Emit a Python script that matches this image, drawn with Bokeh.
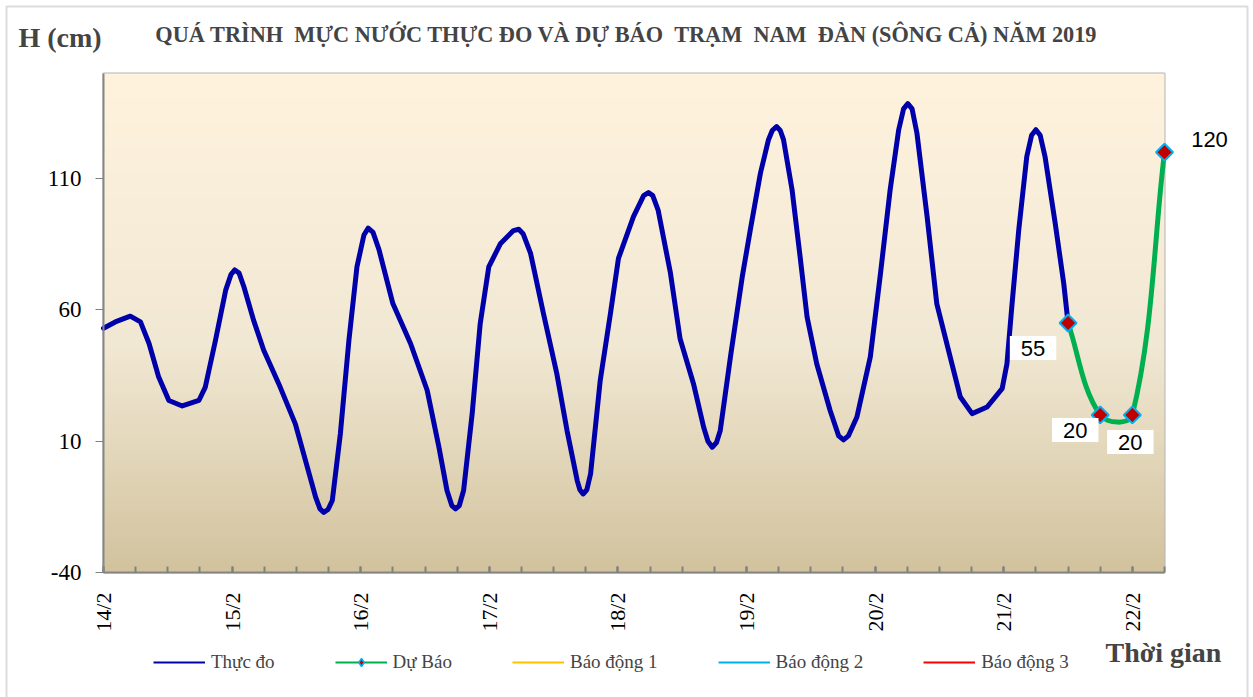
import math
import numpy as np
from bokeh.plotting import figure
from bokeh.models import (Range1d, FixedTicker, Label, Legend, LegendItem, LinearAxis,
                          BoxAnnotation)
from bokeh.embed import file_html
from bokeh.resources import INLINE

# ---------------- data ----------------
NB = "\u00a0"
title_text = ("QUÁ TRÌNH " + NB + "MỰC NƯỚC THỰC ĐO VÀ DỰ BÁO " + NB + "TRẠM " + NB +
              "NAM " + NB + "ĐÀN (SÔNG CẢ) NĂM 2019")
y_title = "H (cm)"
x_title = "Thời gian"

# hours counted from 14/2 00h
day_ticks_h = [0, 24, 48, 72, 96, 120, 144, 168, 192]
day_labels = ["14/2", "15/2", "16/2", "17/2", "18/2", "19/2", "20/2", "21/2", "22/2"]
y_ticks = [-40, 10, 60, 110]

obs_h = [0, 2.2, 5.0, 6.9, 8.5, 10.3, 12.2, 14.7, 17.8, 19.0, 20.9, 22.8, 23.8, 24.5, 25.3,
         26.2, 28.0, 29.9, 32.7, 35.8, 37.7, 39.6, 40.4, 41.1, 41.9, 42.7, 44.2, 45.8,
         47.3, 48.6, 49.4, 50.3, 51.4, 54.0, 57.3, 60.4, 62.6, 64.1, 65.0, 65.7, 66.4,
         67.2, 68.8, 70.3, 71.9, 74.1, 76.5, 77.5, 78.3, 79.7, 82.1, 84.6, 86.5, 88.4,
         88.9, 89.5, 90.2, 90.9, 92.7, 94.6, 96.1, 98.9, 100.8, 101.7, 102.5, 103.5,
         105.8, 107.6, 110.1, 112.0, 112.8, 113.6, 114.4, 115.1, 117.0, 119.2, 120.7,
         122.6, 124.1, 124.8, 125.6, 126.3, 126.9, 128.5, 130.0, 131.3, 133.1, 135.6,
         137.2, 138.1, 139.0, 140.6, 143.1, 145.0, 146.8, 148.4, 149.3, 150.1, 150.9,
         151.8, 153.7, 155.5, 158.0, 159.9, 162.1, 164.9, 167.7, 168.6, 169.5, 170.8,
         172.3, 173.2, 174.0, 174.8, 175.7, 177.6, 179.2, 180.0]
obs_v = [53, 55.4, 57.6, 55.4, 47.2, 34.4, 25.5, 23.4, 25.5, 30.6, 48.4, 67.5, 73.5, 75.2, 74,
         68.8, 56.1, 44.6, 31.9, 16.6, 2.6, -11.4, -15.8, -17.1, -16, -12.6, 12.8, 48.4,
         76.4, 88.5, 91.1, 89.5, 83, 62.4, 47.2, 29.4, 7.7, -8.8, -14.5, -15.8, -14.5,
         -8.8, 20.5, 54.8, 76.4, 85.3, 90.2, 90.7, 89, 81.5, 58.6, 35.7, 14.1, -5,
         -8.5, -10.1, -8.5, -2.4, 33.2, 58.6, 79.6, 95.5, 103.5, 104.7, 103.5, 98,
         74, 49, 31.9, 15.3, 10, 7.7, 9.5, 14.1, 42.1, 72.6, 90.4,
         112.1, 124.8, 128.3, 129.8, 128.3, 124.8, 105.7, 80.2, 57.3, 39.5, 21.7,
         12, 10.5, 12, 19.2, 42.1, 73.9, 105.7, 128.6, 136.5, 138.5, 136.5,
         127.3, 95.5, 62.4, 42.1, 26.8, 20.5, 23, 30, 39.5, 61.1, 90.4,
         118.4, 126.5, 128.6, 126.5, 118.4, 93, 70, 55]

# Dự Báo (forecast)
fc_h = [180, 186, 192, 198]
fc_v = [55, 20, 20, 120]

legend_names = ["Thực đo", "Dự Báo", "Báo động 1", "Báo động 2", "Báo động 3"]

# ---------------- layout / styles ----------------
W, H = 1253, 697
PX_L, PX_R, PX_T, PX_B = 103, 1164, 73, 572      # plot area box in page pixels
x_start, x_end = 0, 198
y_start, y_end = -40, 150
SERIF = "Liberation Serif"
SANS = "Liberation Sans"
label_offsets = [(-35, -25), (-25, -15), (-2, -27), (45, 13)]

kx = (PX_R - PX_L) / (x_end - x_start)
ky = (PX_B - PX_T) / (y_end - y_start)


def px_x(px):
    return x_start + (px - PX_L) / kx


def px_y(py):
    return y_start + (PX_B - py) / ky


def smooth_segments(xs, ys):
    """Bezier control points for a smoothed line (tangent ~ neighbour chord,
    handle length = 1/3 of the segment, computed in screen-like space)."""
    P = np.column_stack([np.asarray(xs, float) * kx, np.asarray(ys, float) * ky])
    n = len(P)
    T = np.zeros_like(P)
    for i in range(n):
        if i == 0:
            d = P[1] - P[0]
        elif i == n - 1:
            d = P[-1] - P[-2]
        else:
            d = P[i + 1] - P[i - 1]
        T[i] = d / np.hypot(*d)
    segs = dict(x0=[], y0=[], x1=[], y1=[], cx0=[], cy0=[], cx1=[], cy1=[])
    for i in range(n - 1):
        L = np.hypot(*(P[i + 1] - P[i])) / 3.0
        c0 = P[i] + T[i] * L
        c1 = P[i + 1] - T[i + 1] * L
        segs["x0"].append(P[i][0] / kx); segs["y0"].append(P[i][1] / ky)
        segs["x1"].append(P[i + 1][0] / kx); segs["y1"].append(P[i + 1][1] / ky)
        segs["cx0"].append(c0[0] / kx); segs["cy0"].append(c0[1] / ky)
        segs["cx1"].append(c1[0] / kx); segs["cy1"].append(c1[1] / ky)
    return segs


p = figure(width=W, height=H, output_backend="svg", toolbar_location=None,
           x_range=Range1d(px_x(0), px_x(W)), y_range=Range1d(px_y(H), px_y(0)),
           x_axis_location=None, y_axis_location=None,
           min_border=0, min_border_left=0, min_border_right=0,
           min_border_top=0, min_border_bottom=0)
p.background_fill_color = "white"
p.border_fill_color = "white"
p.outline_line_color = None
p.grid.visible = False

# outer chart border
p.add_layout(BoxAnnotation(left=px_x(6), right=px_x(1247), top=px_y(6), bottom=px_y(702),
                           fill_color=None, line_color="#8c8c8c", line_width=2,
                           level="underlay"))

# gradient background of plot area
ny = 256
t = np.linspace(0, 1, ny)  # 0 = bottom, 1 = top
st = [0.0, 0.25, 0.45, 1.0]
cols = np.array([(210, 195, 158), (228, 216, 188), (241, 232, 211), (255, 243, 222)], float)
img = np.empty((ny, 2), dtype=np.uint32)
view = img.view(dtype=np.uint8).reshape((ny, 2, 4))
for c in range(3):
    view[:, :, c] = np.interp(t, st, cols[:, c])[:, None].astype(np.uint8)
view[:, :, 3] = 255
p.image_rgba(image=[img], x=x_start, y=y_start, dw=x_end - x_start, dh=y_end - y_start)

# plot-area border (top / right black)
p.add_layout(BoxAnnotation(left=x_start, right=x_end, bottom=y_start, top=y_end,
                           fill_color=None, line_color="black", line_width=2,
                           level="underlay"))

# series
p.line(obs_h, obs_v, line_color="#0000AA", line_width=5, line_join="round", line_cap="round")
p.bezier(**smooth_segments(fc_h, fc_v), line_color="#00B050", line_width=5, line_cap="round")
p.scatter(fc_h, fc_v, marker="square", angle=math.pi / 4, size=12,
          fill_color="#C00000", line_color="#00B0F0", line_width=2)

# data labels
for i in range(len(fc_h)):
    dx, dy = label_offsets[i]
    p.add_layout(Label(x=fc_h[i], y=fc_v[i], text=str(fc_v[i]), x_offset=dx, y_offset=dy,
                       text_align="center", text_baseline="middle", text_font=SANS,
                       text_font_size="22px", text_color="black",
                       background_fill_color="white" if i < 3 else None,
                       padding=dict(left=11, right=11, top=5, bottom=4)))

# axes (drawn at the plot-area edges)
xa = LinearAxis(fixed_location=y_start, bounds=(x_start, x_end))
xa.ticker = FixedTicker(ticks=day_ticks_h, minor_ticks=list(range(x_start, x_end + 1, 6)))
xa.major_label_overrides = {h: s for h, s in zip(day_ticks_h, day_labels)}
xa.major_label_orientation = math.pi / 2
xa.major_tick_in = 6
xa.major_tick_out = 0
xa.minor_tick_in = 6
xa.minor_tick_out = 0
xa.major_tick_line_color = "#808080"
xa.minor_tick_line_color = "#808080"
xa.major_tick_line_width = 2
xa.minor_tick_line_width = 2
xa.axis_line_color = "#868686"
xa.axis_line_width = 2
xa.major_label_standoff = 20
xa.major_label_text_font = SERIF
xa.major_label_text_font_size = "22px"
xa.major_label_text_color = "black"
p.add_layout(xa, "below")

ya = LinearAxis(fixed_location=x_start, bounds=(y_start, y_end))
ya.ticker = FixedTicker(ticks=y_ticks)
ya.major_label_overrides = {v: str(v) for v in y_ticks}
ya.major_tick_in = 0
ya.major_tick_out = 8
ya.minor_tick_line_color = None
ya.major_tick_line_color = "#808080"
ya.axis_line_color = "#868686"
ya.axis_line_width = 2
ya.major_label_standoff = 14
ya.major_label_text_font = SERIF
ya.major_label_text_font_size = "23px"
ya.major_label_text_color = "black"
p.add_layout(ya, "left")

# titles
p.add_layout(Label(x=px_x(18), y=px_y(37), text=y_title,
                   text_font=SERIF, text_font_style="bold", text_font_size="28px",
                   text_align="left", text_baseline="middle"))
p.add_layout(Label(x=px_x(626), y=px_y(34), text=title_text,
                   text_font=SERIF, text_font_style="bold", text_font_size="22.3px",
                   text_align="center", text_baseline="middle"))
p.add_layout(Label(x=px_x(1105), y=px_y(652), text=x_title,
                   text_font=SERIF, text_font_style="bold", text_font_size="28px",
                   text_align="left", text_baseline="middle"))

# legend (legend-only renderers, no visible data)
nan = [float("nan")]
l_obs = p.line(nan, nan, line_color="#0000AA", line_width=2)
l_fc = p.line(nan, nan, line_color="#00B050", line_width=2)
l_fcm = p.scatter(nan, nan, marker="diamond", size=14,
                  fill_color="#C00000", line_color="#00B0F0", line_width=1.5)
l_b1 = p.line(nan, nan, line_color="#FFC000", line_width=2)
l_b2 = p.line(nan, nan, line_color="#00B0F0", line_width=2)
l_b3 = p.line(nan, nan, line_color="#FF0000", line_width=2)
items = [LegendItem(label=legend_names[0], renderers=[l_obs]),
         LegendItem(label=legend_names[1], renderers=[l_fc, l_fcm]),
         LegendItem(label=legend_names[2], renderers=[l_b1]),
         LegendItem(label=legend_names[3], renderers=[l_b2]),
         LegendItem(label=legend_names[4], renderers=[l_b3])]
legend = Legend(items=items, orientation="horizontal", location=(153, 24),
                glyph_width=52, glyph_height=20, label_standoff=6, spacing=60,
                padding=0, margin=0, border_line_color=None, background_fill_alpha=0,
                label_text_font=SERIF, label_text_font_size="19px")
p.add_layout(legend)

open("out.html", "w").write(file_html(p, INLINE))
